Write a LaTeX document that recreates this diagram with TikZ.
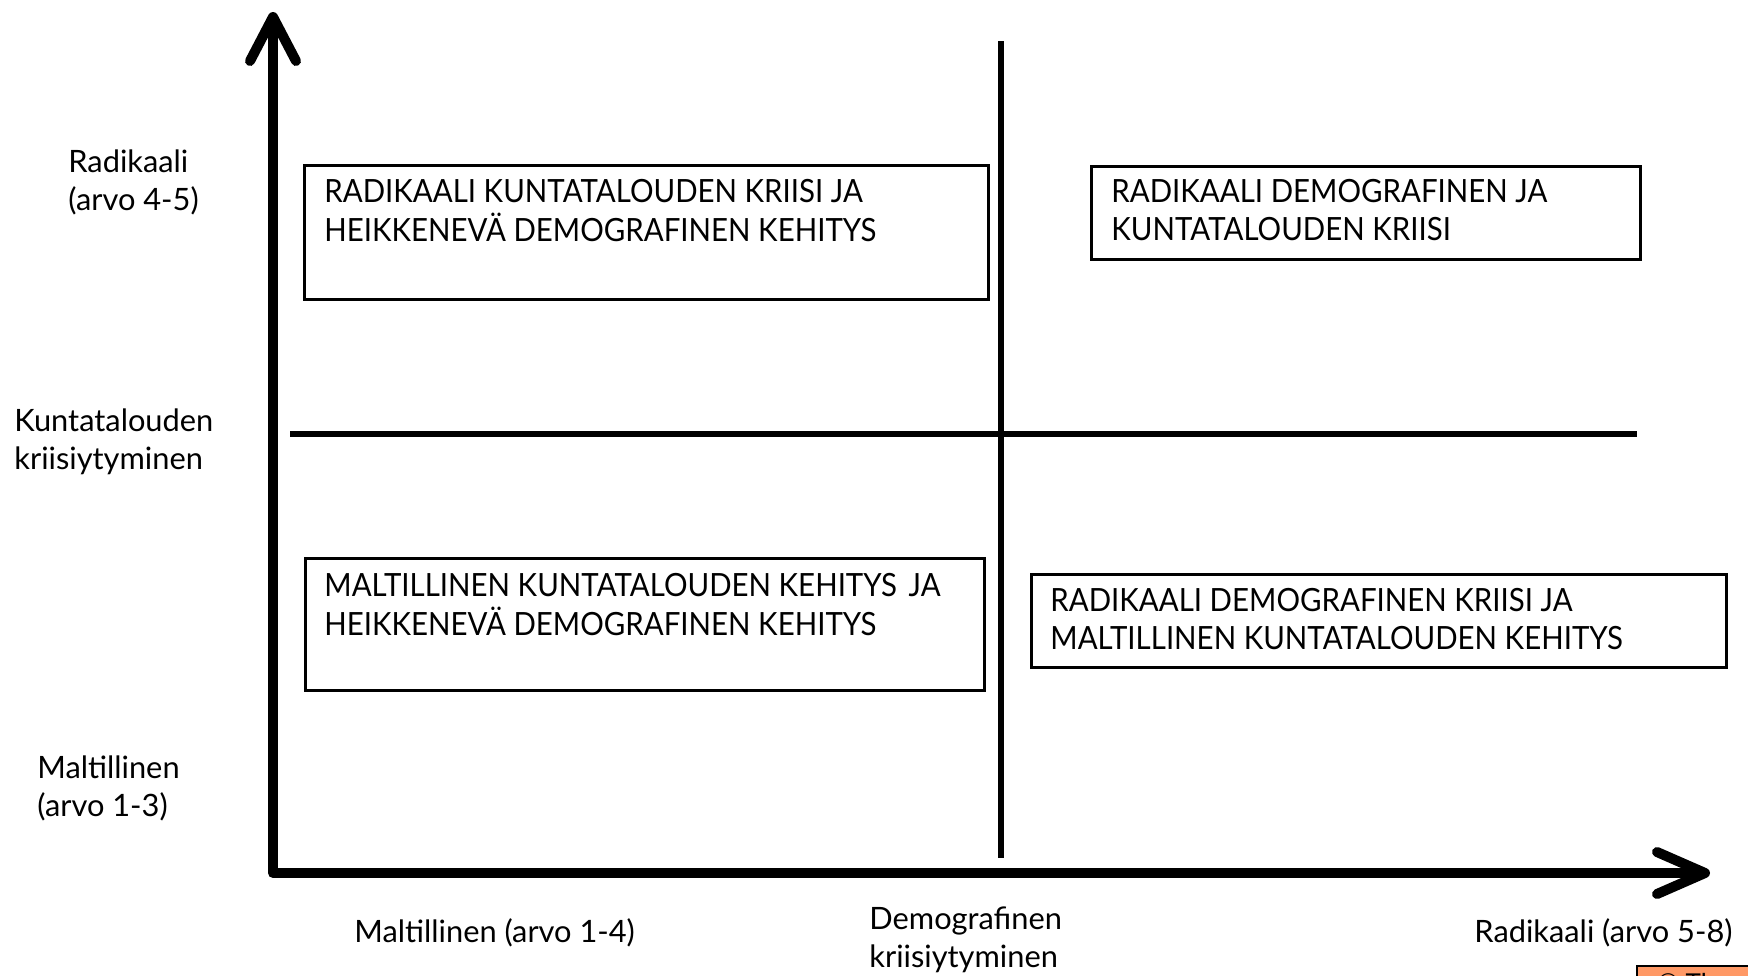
\documentclass[tikz,border=0pt]{standalone}
\usepackage{fontspec}
\setmainfont{Lato}
\newfontfamily\boxfont[FakeStretch=0.92]{Lato}
\usetikzlibrary{arrows.meta}
\definecolor{tagorange}{RGB}{255,153,102}
\newcommand{\twolines}[2]{\begin{tabular}[t]{@{}l@{}}#1\\#2\end{tabular}}
\begin{document}
\begin{tikzpicture}[x=0.5pt,y=-0.5pt,
  axis/.style={line width=5pt, line cap=round, line join=round},
  divider/.style={line width=3pt},
  quadbox/.style={draw, line width=1.7pt, inner sep=0pt, anchor=north west},
  boxtext/.style={inner sep=0pt, anchor=base west, font=\boxfont\fontsize{16pt}{19pt}\selectfont},
  axlabel/.style={inner sep=0pt, anchor=base west, font=\fontsize{15.4pt}{19pt}\selectfont},
]
\useasboundingbox (0,0) rectangle (1748,975);

% quadrant boxes
\node[quadbox, minimum width=342pt, minimum height=67pt] (b1) at (303,164) {};
\node[quadbox, minimum width=274.5pt, minimum height=46.5pt] (b2) at (1090,165) {};
\node[quadbox, minimum width=339.5pt, minimum height=66pt] (b3) at (304,557) {};
\node[quadbox, minimum width=347.5pt, minimum height=46.5pt] (b4) at (1030,573) {};

\node[boxtext] (t1) at (324,202) {\twolines{RADIKAALI KUNTATALOUDEN KRIISI JA}{HEIKKENEVÄ DEMOGRAFINEN KEHITYS}};
\node[boxtext] (t2) at (1111,202) {\twolines{RADIKAALI DEMOGRAFINEN JA}{KUNTATALOUDEN KRIISI}};
\node[boxtext] (t3) at (324,596) {\twolines{MALTILLINEN KUNTATALOUDEN KEHITYS\hspace{2pt} JA}{HEIKKENEVÄ DEMOGRAFINEN KEHITYS}};
\node[boxtext] (t4) at (1050,611) {\twolines{RADIKAALI DEMOGRAFINEN KRIISI JA}{MALTILLINEN KUNTATALOUDEN KEHITYS}};

% dividers
\coordinate (vtop) at (1001,41);
\coordinate (vbot) at (1001,858);
\coordinate (hl) at (290,434);
\coordinate (hr) at (1637,434);
\draw[divider] (vtop) -- (vbot);
\draw[divider] (hl) -- (hr);

% axes
\coordinate (O) at (273,873);
\coordinate (ytip) at (273,12);
\coordinate (xtip) at (1710,873);
\draw[axis, {Straight Barb[length=22pt, width=23pt, round]}-{Straight Barb[length=24pt, width=21pt, round]}] (ytip) -- (O) -- (xtip);

% axis labels
\node[axlabel] (yhi) at (68,172) {\twolines{Radikaali}{(arvo 4-5)}};
\node[axlabel] (ymid) at (14,431) {\twolines{Kuntatalouden}{kriisiytyminen}};
\node[axlabel] (ylo) at (37,778) {\twolines{Maltillinen}{(arvo 1-3)}};
\node[axlabel] (xlo) at (354,942) {Maltillinen (arvo 1-4)};
\node[axlabel] (xmid) at (869,929) {\twolines{Demografinen}{kriisiytyminen}};
\node[axlabel] (xhi) at (1474,942) {Radikaali (arvo 5-8)};

% cut-off tag at the bottom right
\begin{scope}
\clip (0,0) rectangle (1748,975);
\node[draw, line width=1pt, fill=tagorange, inner sep=0pt, anchor=north west, minimum width=80pt, minimum height=30pt] (tag) at (1636,965) {};
\node[inner sep=0pt, anchor=base west, font=\fontsize{13pt}{15pt}\selectfont] (tagtext) at (1657,992) {© Th};
\end{scope}
\end{tikzpicture}
\end{document}
